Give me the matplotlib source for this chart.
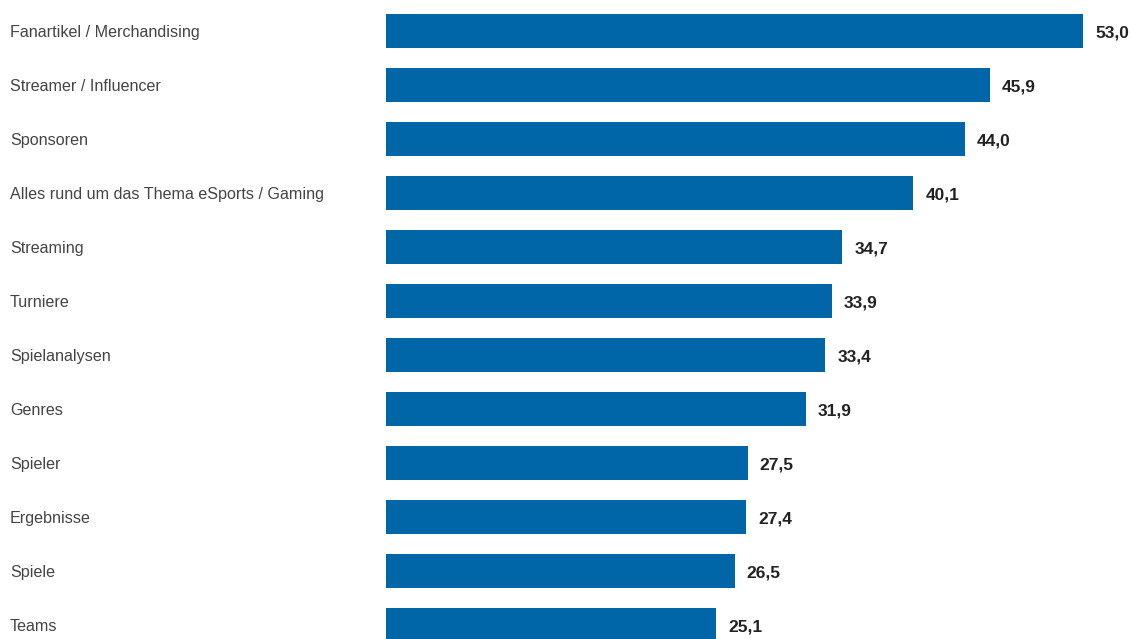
import matplotlib
matplotlib.use("Agg")
import matplotlib.pyplot as plt
from matplotlib.transforms import blended_transform_factory

# Data
categories = [
    "Fanartikel / Merchandising",
    "Streamer / Influencer",
    "Sponsoren",
    "Alles rund um das Thema eSports / Gaming",
    "Streaming",
    "Turniere",
    "Spielanalysen",
    "Genres",
    "Spieler",
    "Ergebnisse",
    "Spiele",
    "Teams",
]
values = [53.0, 45.9, 44.0, 40.1, 34.7, 33.9, 33.4, 31.9, 27.5, 27.4, 26.5, 25.1]

plt.rcParams["font.family"] = ["Liberation Sans", "DejaVu Sans"]

W, H, DPI = 1133, 639, 100
fig = plt.figure(figsize=(W / DPI, H / DPI), dpi=DPI)
# axes start where the bars start (x=386 px), full height
ax = fig.add_axes([386 / W, 0, (W - 386) / W, 1])

px_per_unit = 697 / 53.0
row_px = 54
first_center = 31
ax.set_xlim(0, (W - 386) / px_per_unit)
ax.set_ylim((H - first_center) / row_px, -first_center / row_px)

ypos = list(range(len(categories)))
ax.barh(ypos, values, height=34 / row_px, color="#0066a8")

label_tr = blended_transform_factory(fig.transFigure, ax.transData)
for y, cat, v in zip(ypos, categories, values):
    ax.text(10 / W, y, cat, transform=label_tr,
            ha="left", va="center_baseline", fontsize=11.6, color="#444444")
    ax.text(v + 12 / px_per_unit, y, f"{v:.1f}".replace(".", ","),
            ha="left", va="center_baseline", fontsize=12.5, fontweight="bold", color="#222222")

ax.axis("off")
fig.savefig("out.png", dpi=DPI)
